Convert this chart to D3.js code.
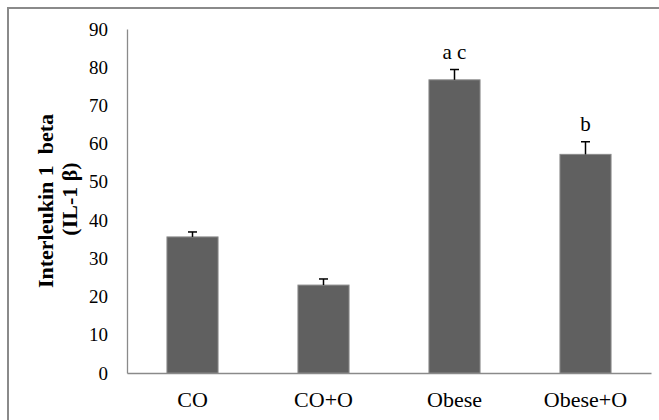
<!DOCTYPE html>
<html><head><meta charset="utf-8">
<script src="https://cdn.jsdelivr.net/npm/d3@7"></script>
<style>body{margin:0;background:#fff}svg{display:block}</style>
</head><body>
<script>
const categories = ["CO", "CO+O", "Obese", "Obese+O"];
const values = [35.6, 23.0, 76.7, 57.2];
const errors = [1.3, 1.6, 2.7, 3.3];
const annotations = ["", "", "a c", "b"];
const yTicks = [0, 10, 20, 30, 40, 50, 60, 70, 80, 90];

const W = 659, H = 420;
const svg = d3.select("body").append("svg").attr("width", W).attr("height", H);
const font = "'Liberation Serif','Times New Roman',serif";

svg.append("rect").attr("x", 8).attr("y", 8).attr("width", 800).attr("height", 600)
  .attr("fill", "#fff").attr("stroke", "#8a8a8a").attr("stroke-width", 2);

const x = d3.scaleBand().domain(categories).range([127, 651]).paddingInner(0.61).paddingOuter(0.305);
const y = d3.scaleLinear().domain([0, 90]).range([373, 29]);

// axes
const yAxis = svg.append("g").attr("transform", "translate(127,0)")
  .call(d3.axisLeft(y).tickValues(yTicks).tickSize(0).tickPadding(19).tickFormat(d3.format("d")));
yAxis.select(".domain").attr("stroke", "#8a8a8a").attr("stroke-width", 1.3);
yAxis.selectAll("text").attr("font-family", font).attr("font-size", 19).attr("fill", "#000");

const xAxis = svg.append("g").attr("transform", "translate(0,373)")
  .call(d3.axisBottom(x).tickSize(0).tickPadding(18));
xAxis.select(".domain").attr("stroke", "#8a8a8a").attr("stroke-width", 1.3);
xAxis.selectAll("text").attr("font-family", font).attr("font-size", 22).attr("fill", "#000");

// bars
const data = categories.map((c, i) => ({c, v: values[i], e: errors[i], a: annotations[i]}));
svg.selectAll("rect.bar").data(data).join("rect").attr("class", "bar")
  .attr("x", d => x(d.c)).attr("width", x.bandwidth())
  .attr("y", d => y(d.v)).attr("height", d => y(0) - y(d.v))
  .attr("fill", "#606060").attr("stroke", "#8a8a8a").attr("stroke-width", 1);

// error bars
const eb = svg.selectAll("g.err").data(data).join("g").attr("class", "err");
eb.append("line").attr("x1", d => x(d.c) + x.bandwidth()/2).attr("x2", d => x(d.c) + x.bandwidth()/2)
  .attr("y1", d => y(d.v)).attr("y2", d => y(d.v + d.e)).attr("stroke", "#000").attr("stroke-width", 1.5);
eb.append("line").attr("x1", d => x(d.c) + x.bandwidth()/2 - 4.5).attr("x2", d => x(d.c) + x.bandwidth()/2 + 4.5)
  .attr("y1", d => y(d.v + d.e)).attr("y2", d => y(d.v + d.e)).attr("stroke", "#000").attr("stroke-width", 1.5);

// annotations
svg.selectAll("text.ann").data(data.filter(d => d.a)).join("text").attr("class", "ann")
  .attr("x", d => x(d.c) + x.bandwidth()/2).attr("y", d => y(d.v + d.e) - 11)
  .attr("text-anchor", "middle").attr("font-family", font).attr("font-size", 21)
  .text(d => d.a);

// y title
const t = svg.append("text").attr("transform", "rotate(-90)")
  .attr("text-anchor", "middle").attr("font-family", font).attr("font-size", 22)
  .attr("font-weight", "bold");
t.append("tspan").attr("x", -201).attr("y", 53).text("Interleukin 1\u00A0 beta");
t.append("tspan").attr("x", -199).attr("y", 77).text("(IL-1 β)");
</script>
</body></html>
